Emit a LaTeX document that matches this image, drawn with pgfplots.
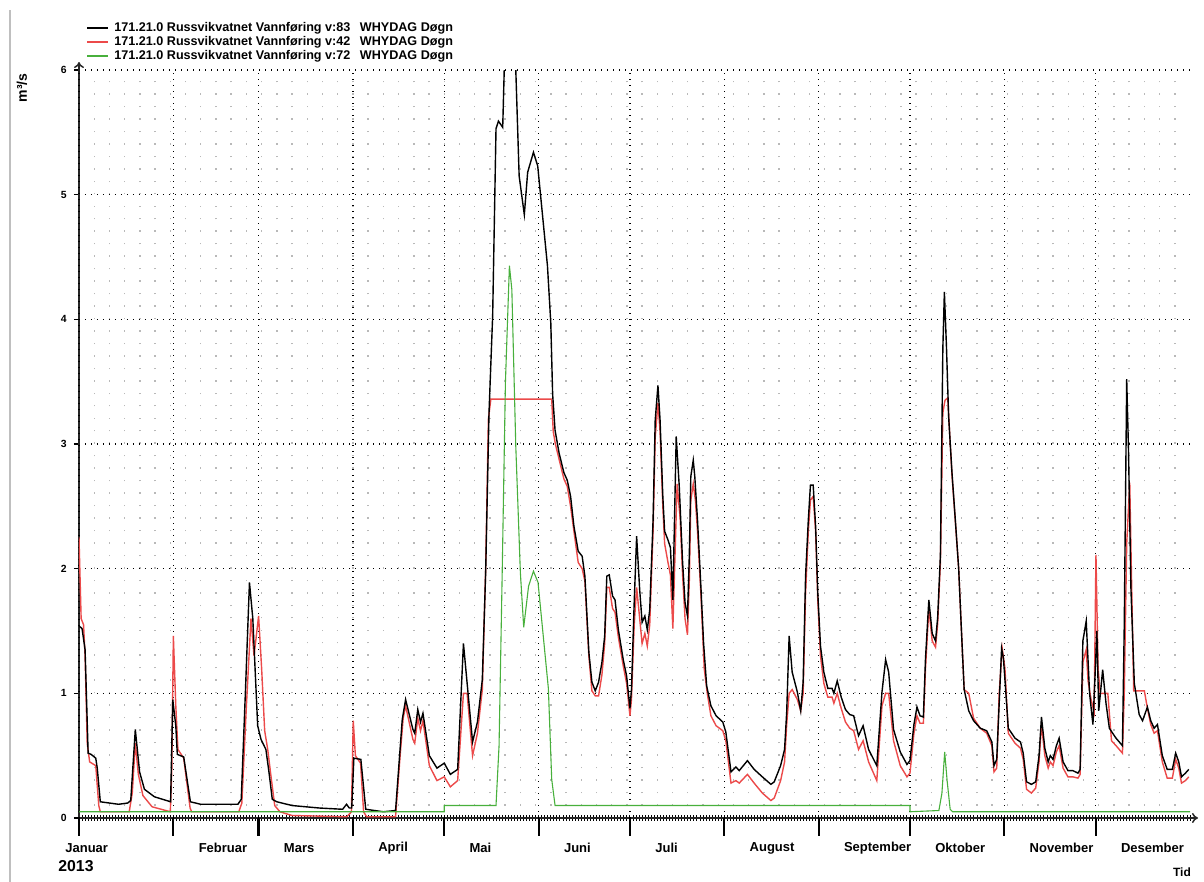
\documentclass[border=0pt]{standalone}
\usepackage{fontspec}
\setmainfont{Liberation Sans}
\usepackage{pgfplots}
\pgfplotsset{compat=1.18}
\usetikzlibrary{arrows.meta}
\definecolor{cred}{RGB}{236,74,74}
\definecolor{cgreen}{RGB}{72,176,60}
\definecolor{cgrid}{RGB}{185,185,185}
\tikzset{mlab/.style={font=\bfseries\fontsize{6.5}{7}\selectfont, anchor=west, inner sep=0pt, yshift=-15pt}}

\pgfplotstableread{
x y
0 1.54
1 1.52
2 1.35
3 0.52
4 0.51
5.5 0.48
6 0.40
7 0.13
10 0.12
13 0.11
16 0.12
17 0.14
18.5 0.71
19.9 0.37
21.5 0.23
24.8 0.17
30.1 0.13
30.8 0.95
31.8 0.74
32.3 0.51
34.4 0.49
36.6 0.13
40 0.11
45 0.11
52.2 0.11
53.3 0.15
54.7 1.03
56 1.89
57.1 1.60
57.9 1.17
58.7 0.74
59.8 0.63
61.4 0.55
62.4 0.37
63.5 0.15
65 0.13
70 0.10
79 0.08
86.6 0.07
87.9 0.11
88.8 0.08
89.6 0.08
90.3 0.48
92.6 0.47
94.2 0.07
100 0.05
104 0.06
106.2 0.79
107.3 0.95
109.7 0.71
110.3 0.68
111.3 0.87
112.2 0.77
113 0.84
115.1 0.50
117.6 0.40
120 0.44
122 0.35
124.4 0.39
126.3 1.40
129.3 0.61
130.9 0.77
132.5 1.11
133.6 1.97
134.7 3.25
135.9 4.03
137 5.53
137.8 5.59
139.2 5.54
139.7 6.00
141.5 6.60
143.5 6.00
144.6 5.15
146.3 4.84
147.4 5.18
149.3 5.34
150.7 5.23
152.3 4.83
153.9 4.43
155 3.97
155.6 3.40
156.4 3.11
157.7 2.93
159.3 2.77
160.4 2.71
161.5 2.58
162.6 2.34
164 2.14
165.3 2.10
166.2 1.94
167.5 1.33
168.5 1.09
169.6 1.02
170.7 1.09
171.8 1.25
172.7 1.46
173.4 1.94
174.2 1.95
175.3 1.78
176.1 1.75
177.2 1.51
178.8 1.27
179.9 1.14
181 0.88
181.5 1.03
182.4 1.73
183.2 2.26
184.2 1.83
185 1.57
185.9 1.62
186.7 1.51
187.5 1.67
188.6 2.39
189.3 3.19
190.2 3.47
190.9 3.19
191.8 2.58
192.4 2.30
193.5 2.23
194.3 2.17
195.1 1.75
196.2 3.06
197.2 2.66
198.3 2.05
199.1 1.73
199.9 1.62
200.5 2.10
201 2.74
201.8 2.87
202.3 2.74
203.2 2.39
204.3 1.86
205.2 1.40
206.2 1.06
207.6 0.90
209.3 0.82
211.5 0.77
212.5 0.69
214.2 0.37
215.8 0.41
216.9 0.38
219.6 0.46
221.8 0.39
224.5 0.33
227.3 0.27
228.4 0.29
230.5 0.42
231.8 0.55
232.5 0.85
233.3 1.46
234.3 1.17
236 1.01
237.1 0.86
237.9 1.09
238.7 1.94
239.6 2.39
240.3 2.67
241.2 2.67
242 2.34
242.7 1.81
243.6 1.38
244.7 1.17
246 1.04
247.4 1.04
248 1.00
249.1 1.10
250.4 0.97
251.8 0.87
253.2 0.83
254.5 0.82
256.1 0.66
257.6 0.74
259.4 0.55
262.1 0.42
263.8 1.01
265 1.27
266 1.17
267.6 0.71
269.8 0.53
272 0.43
273 0.46
274.3 0.75
275.3 0.89
276.3 0.82
277.4 0.81
278.1 1.28
279.2 1.75
280.3 1.48
281.4 1.42
282.1 1.61
283 2.11
283.8 3.77
284.3 4.22
285 3.77
285.7 3.22
286.8 2.77
287.9 2.39
289 2.00
289.8 1.56
290.8 1.03
292.3 0.86
293.9 0.78
296.1 0.72
298.2 0.70
299.9 0.61
300.6 0.42
301.5 0.47
303.1 1.36
303.7 1.28
304.2 1.11
305.3 0.72
307.5 0.64
309.3 0.61
310.2 0.52
311.3 0.29
312.9 0.27
314.3 0.29
315.4 0.50
316.2 0.81
317.3 0.56
318.4 0.45
319.1 0.50
320 0.47
321.1 0.58
322 0.64
323.3 0.45
324.9 0.38
326.5 0.38
328.2 0.36
328.9 0.39
329.8 1.42
330.9 1.58
332 1.00
333.1 0.75
333.8 1.14
334.4 1.50
335 0.86
335.8 1.06
336.3 1.19
337.4 0.92
338.5 0.72
340.7 0.64
342.8 0.58
343.4 1.55
344.2 3.52
344.8 2.94
345.6 1.83
346.7 1.08
348.3 0.83
349.4 0.78
351 0.89
352.1 0.78
353.2 0.72
354.3 0.75
355.9 0.50
357.5 0.39
359.2 0.39
360.3 0.52
361.3 0.45
362.2 0.33
363.5 0.36
364.6 0.39
}\blackdata

\pgfplotstableread{
x y
0 2.25
0.7 1.60
1.5 1.55
2 1.30
2.7 0.60
3.5 0.45
5.5 0.42
6.5 0.10
7 0.05
16.5 0.05
17.5 0.20
18.5 0.60
19.5 0.35
21 0.18
24 0.09
30 0.05
30.5 0.40
31 1.46
31.8 0.90
32.5 0.55
34.4 0.48
36.5 0.08
37 0.05
52.5 0.05
53.5 0.12
55 0.90
56.5 1.60
57.5 1.30
59 1.62
60 1.20
61 0.70
62 0.55
63 0.35
64.3 0.10
66 0.05
70 0.02
88 0.01
89.5 0.05
90.1 0.78
90.8 0.50
92.5 0.44
93.5 0.05
94.5 0.01
104 0.01
105.5 0.50
106.5 0.80
107.3 0.90
109.7 0.63
110.3 0.60
111.3 0.80
112.2 0.70
113 0.78
115.1 0.42
117.6 0.30
120 0.33
122 0.25
124.4 0.30
126.3 1.00
127.5 1.00
129.3 0.50
130.9 0.68
132.5 1.03
133.6 2.00
134.5 3.20
135.3 3.36
155.3 3.36
155.8 3.10
156.5 3.00
157.7 2.88
159.3 2.72
160.4 2.66
161.5 2.50
162.6 2.30
164 2.05
165.3 2.00
166.2 1.90
167.5 1.30
168.5 1.02
169.6 0.98
170.7 0.98
171.8 1.15
172.7 1.40
173.4 1.85
174.2 1.85
175.3 1.68
176.1 1.65
177.2 1.45
178.8 1.22
179.9 1.08
181 0.82
181.5 0.95
182.4 1.55
183.2 1.85
184.2 1.60
185 1.40
185.9 1.48
186.7 1.38
187.5 1.55
188.6 2.30
189.3 3.05
190.2 3.33
190.9 3.10
191.8 2.50
192.4 2.20
193.5 2.05
194.3 1.95
195.1 1.52
196.5 2.68
197.5 2.40
198.3 1.95
199.1 1.60
199.9 1.47
200.5 1.90
201 2.55
201.8 2.68
202.5 2.55
203.2 2.30
204.3 1.80
205.4 1.20
206.4 1.00
207.6 0.82
209.3 0.74
211.5 0.70
212.5 0.62
214.2 0.28
215.8 0.30
216.9 0.28
219.6 0.35
221.8 0.28
224.5 0.20
227.3 0.14
228.4 0.16
230.5 0.30
231.8 0.45
232.5 0.75
233.3 1.00
234.3 1.03
236 0.95
237.1 0.86
237.9 1.00
238.7 1.80
239.6 2.30
240.3 2.55
241.2 2.58
242 2.30
242.7 1.75
243.6 1.30
244.7 1.08
246 0.97
247.4 0.97
248 0.92
249.1 1.00
250.4 0.88
251.8 0.77
253.2 0.72
254.5 0.70
256.1 0.55
257.6 0.62
259.4 0.45
262.1 0.30
263.8 0.90
265 1.00
266 1.00
267.6 0.62
269.8 0.42
272 0.33
273 0.36
274.3 0.68
275.3 0.82
276.3 0.76
277.4 0.76
278.1 1.20
279.2 1.68
280.3 1.42
281.4 1.37
282.1 1.56
283 2.05
283.8 3.25
284.5 3.35
285.4 3.37
286 3.10
286.8 2.75
287.9 2.38
289 2.00
289.8 1.56
290.8 1.03
292.3 1.00
293.9 0.80
296.1 0.72
298.2 0.68
299.9 0.58
300.6 0.37
301.5 0.40
302.3 1.00
303.3 1.36
304.2 1.20
305.3 0.68
307.5 0.60
309.3 0.56
310.2 0.47
311.3 0.23
312.9 0.20
314.3 0.24
315.4 0.45
316.2 0.75
317.3 0.50
318.4 0.40
319.1 0.45
320 0.42
321.1 0.53
322 0.58
323.3 0.40
324.9 0.33
326.5 0.33
328.2 0.32
328.9 0.35
329.8 1.25
330.9 1.35
331.5 1.10
332.5 0.95
333.5 0.85
334.1 2.11
334.8 1.20
335.5 1.00
338 1.00
339.2 0.62
340.7 0.58
342.8 0.52
343.4 1.00
344.2 2.20
345.2 2.69
345.8 1.90
346.5 1.02
350 1.02
351 0.88
352.1 0.75
353.2 0.68
354.3 0.70
355.9 0.45
357.5 0.32
359.2 0.32
360.3 0.47
361.3 0.40
362.2 0.28
363.5 0.30
364.6 0.33
}\reddata

\pgfplotstableread{
x y
0 0.05
120 0.05
120 0.10
137 0.10
138 0.58
139 1.92
140.1 3.50
141.4 4.43
142.2 4.24
143.5 2.98
145 1.97
146.1 1.53
147.7 1.86
149.3 1.98
150.8 1.89
152.6 1.44
154.2 1.04
155.3 0.31
156.4 0.10
273 0.10
273 0.05
282.5 0.06
283.5 0.20
284.4 0.53
285.2 0.30
286.2 0.07
287 0.05
365 0.05
}\greendata

\begin{document}
\begin{tikzpicture}[x=1pt,y=1pt]
\useasboundingbox (0,0) rectangle (602,441);
\fill[white] (0,0) rectangle (602,441);
\draw[black!25, line width=0.6pt] (5,0) -- (5,436);

% light dotted minor grid
\begin{axis}[at={(39.5pt,32pt)}, anchor=south west, scale only axis,
  width=555.5pt, height=374pt,
  xmin=0, xmax=365, ymin=0, ymax=6,
  axis lines=left, axis line style={draw=none},
  xtick={5,10,...,360}, xticklabels={}, ytick=\empty,
  tick style={draw=none},
  xmajorgrids,
  major grid style={cgrid, line width=0.7pt, dash pattern=on 0.7pt off 5.535pt},
]
\end{axis}

% daily ticks on the time axis
\begin{axis}[at={(39.5pt,32pt)}, anchor=south west, scale only axis,
  width=555.5pt, height=374pt,
  xmin=0, xmax=365, ymin=0, ymax=6,
  axis x line=bottom, axis y line=none,
  axis line style={draw=none},
  xtick distance=1,
  xticklabels={},
  major tick length=2.6pt,
  tick align=center,
  tick style={draw=black, line width=0.45pt},
]
\end{axis}

\begin{axis}[at={(39.5pt,32pt)}, anchor=south west, scale only axis,
  width=555.5pt, height=374pt,
  xmin=0, xmax=365, ymin=0, ymax=6,
  clip mode=individual,
  axis lines=left,
  axis line style={line width=0.75pt, black!85, -{To[length=3pt,width=5pt]}, shorten >=-4pt},
  xtick=\empty,
  extra x ticks={0,31,59,90,120,151,181,212,243,273,304,334},
  extra x tick labels={},
  extra x tick style={major tick length=9pt, grid=major, tick style={line width=1.1pt, black}},
  ytick={0,1,...,6},
  y tick style={line width=0.6pt, black},
  ymajorgrids,
  major grid style={black, line width=0.6pt, dash pattern=on 0.6pt off 2.4pt},
  major tick length=2.6pt,
  tick align=outside,
  tick label style={font=\bfseries\fontsize{5.2}{6}\selectfont},
  /pgf/number format/assume math mode=true,
  legend style={at={(0.0063,1.0655)}, anchor=north west, draw=none, fill=none,
    inner sep=0pt, row sep=0.25pt, column sep=2.5pt,
    font=\bfseries\fontsize{6.3}{7}\selectfont,
    nodes={inner sep=0.3pt, text height=4.6pt, text depth=1.5pt}},
  legend cell align=left,
  legend image code/.code={\draw[#1] (0pt,0pt) -- (10.5pt,0pt);},
]
\addlegendimage{black, line width=0.7pt}
\addlegendentry{171.21.0 Russvikvatnet Vannføring v:83\hspace{3pt} WHYDAG Døgn}
\addlegendimage{cred, line width=0.7pt}
\addlegendentry{171.21.0 Russvikvatnet Vannføring v:42\hspace{3pt} WHYDAG Døgn}
\addlegendimage{cgreen, line width=0.7pt}
\addlegendentry{171.21.0 Russvikvatnet Vannføring v:72\hspace{3pt} WHYDAG Døgn}

\addplot[cred, line width=0.7pt, forget plot] table[x=x,y=y] {\reddata};
\addplot[black, line width=0.7pt, forget plot] table[x=x,y=y] {\blackdata};
\addplot[cgreen, line width=0.55pt, forget plot] table[x=x,y=y] {\greendata};

\node[mlab] at (axis cs:0,0) [xshift=-7pt] {Januar};
\node[mlab] at (axis cs:31,0) [xshift=12.5pt] {Februar};
\node[mlab] at (axis cs:59,0) [xshift=12.5pt] {Mars};
\node[mlab] at (axis cs:90,0) [xshift=12.5pt] {April};
\node[mlab] at (axis cs:120,0) [xshift=12.5pt] {Mai};
\node[mlab] at (axis cs:151,0) [xshift=12.5pt] {Juni};
\node[mlab] at (axis cs:181,0) [xshift=12.5pt] {Juli};
\node[mlab] at (axis cs:212,0) [xshift=12.5pt] {August};
\node[mlab] at (axis cs:243,0) [xshift=12.5pt] {September};
\node[mlab] at (axis cs:273,0) [xshift=12.5pt] {Oktober};
\node[mlab] at (axis cs:304,0) [xshift=12.5pt] {November};
\node[mlab] at (axis cs:334,0) [xshift=12.5pt] {Desember};
\node[font=\bfseries\fontsize{7.9}{9}\selectfont, inner sep=0pt] at (rel axis cs:-0.0027,-0.064) {2013};
\node[font=\bfseries\fontsize{6}{7}\selectfont, inner sep=0pt] at (rel axis cs:0.9928,-0.072) {Tid};
\node[font=\bfseries\fontsize{7}{8}\selectfont, inner sep=0pt, rotate=90] at (rel axis cs:-0.0513,0.976) {m³/s};
\end{axis}
\end{tikzpicture}
\end{document}
